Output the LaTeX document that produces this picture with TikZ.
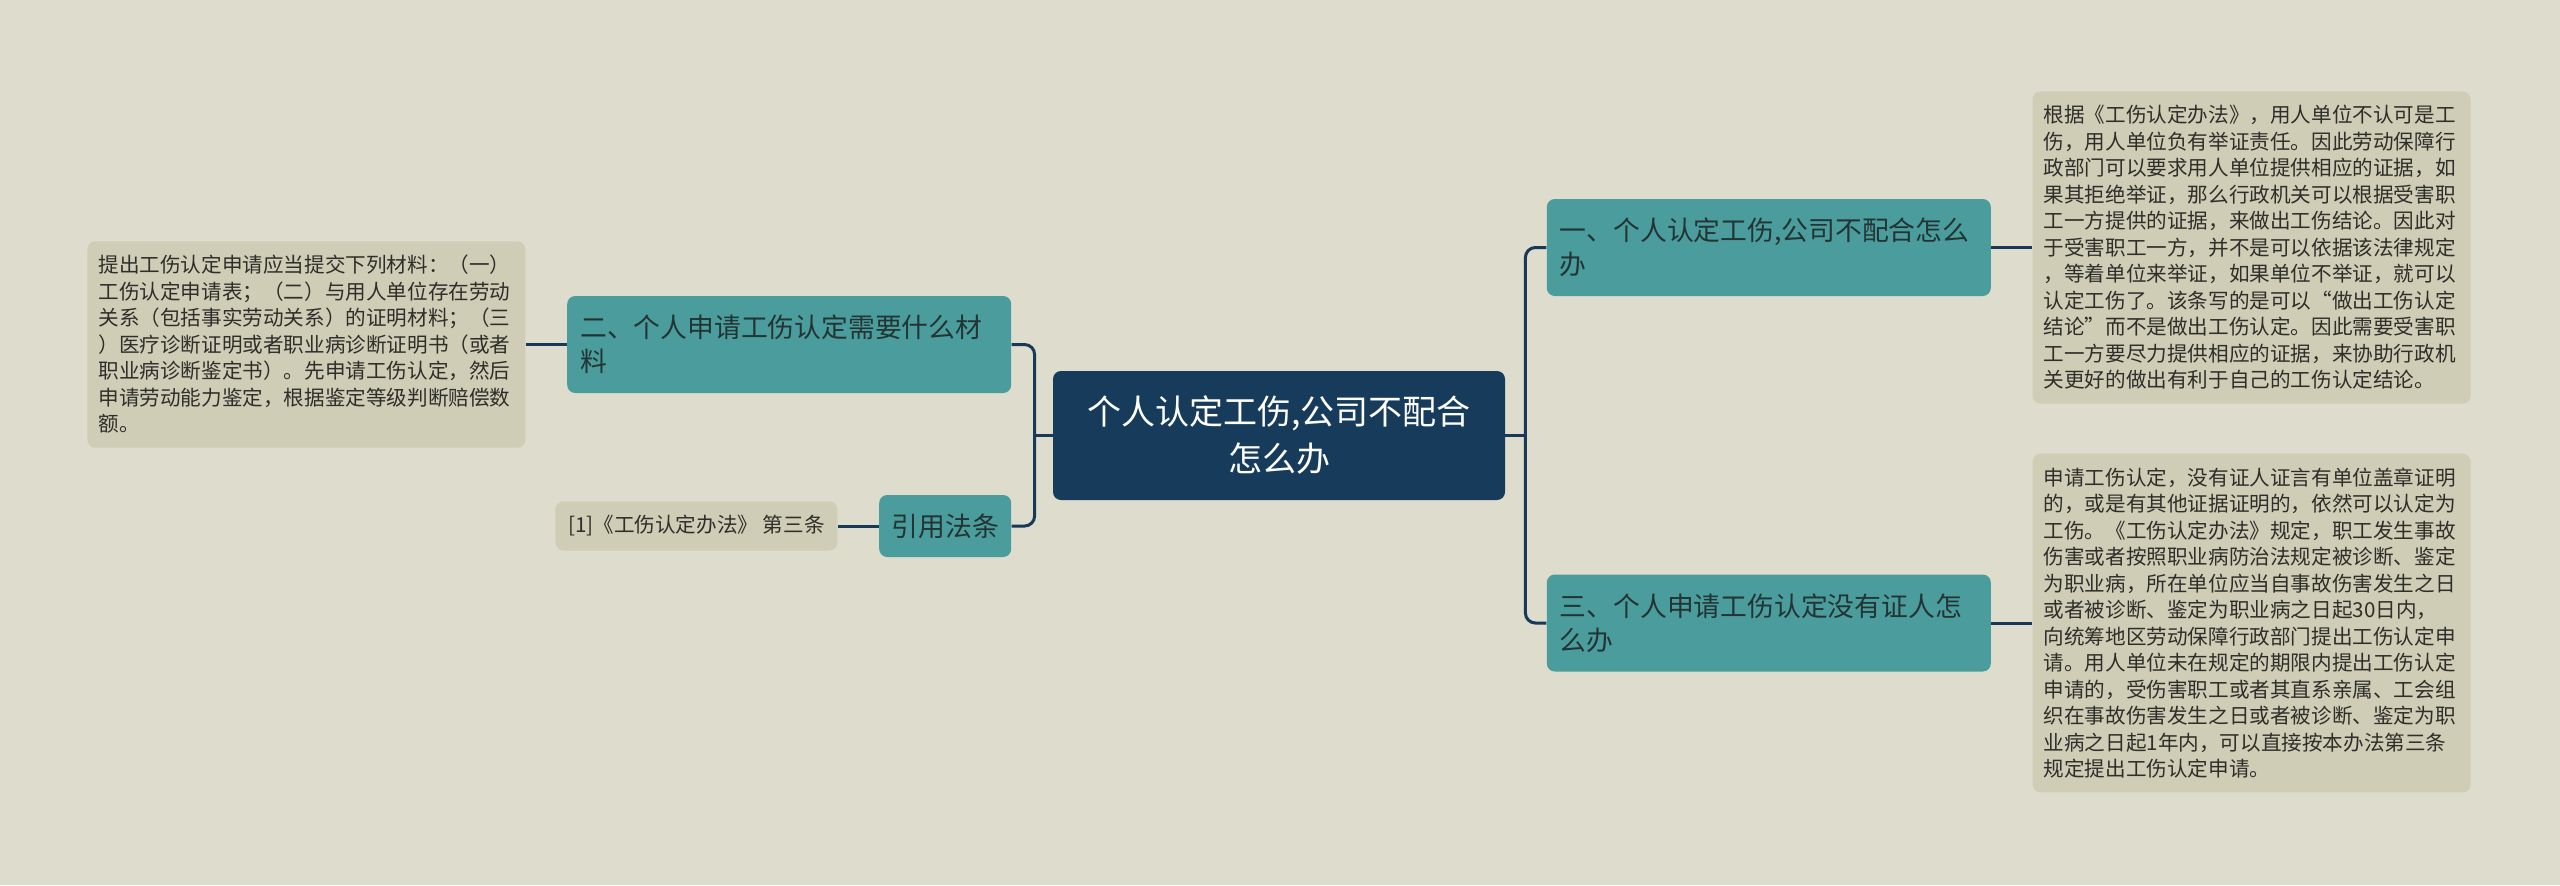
\documentclass[tikz,border=0pt]{standalone}
\usepackage{fontspec}
\newfontfamily\cjk{Noto Sans CJK SC}
\usetikzlibrary{positioning}
\definecolor{bgc}{HTML}{DEDCCD}
\definecolor{rootc}{HTML}{173C5B}
\definecolor{brc}{HTML}{4B9C9C}
\definecolor{leafc}{HTML}{CFCDB6}
\definecolor{linkc}{HTML}{183A58}
\definecolor{brtxt}{HTML}{233434}
\definecolor{leaftxt}{HTML}{2E2E2A}
\tikzset{
  rootbox/.style={fill=rootc, rounded corners=4pt, text=white, align=center,
              font=\cjk\fontsize{17}{23.5}\selectfont,
              minimum width=226pt, minimum height=64.5pt},
  brbox/.style={fill=brc, rounded corners=4pt, text=brtxt, align=left,
              font=\cjk\fontsize{13.4}{17}\selectfont, text width=209pt,
              inner xsep=6.5pt, minimum height=48.5pt},
  lawbox/.style={fill=brc, rounded corners=4pt, text=brtxt,
              font=\cjk\fontsize{13.4}{17}\selectfont,
              minimum width=66pt, minimum height=31pt},
  leaf/.style={fill=leafc, rounded corners=4pt, text=leaftxt, align=left,
              font=\cjk\fontsize{10.3}{13.25}\selectfont, text width=208pt,
              inner xsep=5.5pt, inner ysep=7pt},
  cite/.style={fill=leafc, rounded corners=4pt, text=leaftxt,
              font=\cjk\fontsize{10.3}{13.25}\selectfont,
              minimum width=141pt, minimum height=24.5pt},
  link/.style={draw=linkc, line width=1.5pt, rounded corners=5pt},
}
\begin{document}
\begin{tikzpicture}
  \useasboundingbox (0,0) rectangle (1280pt,-442.5pt);
  \fill[bgc] (0,0) rectangle (1280pt,-442.5pt);

  \node[rootbox] (root) at (639.5pt,-217.75pt) {个人认定工伤,公司不配合\\怎么办};

  % right side
  \node[brbox, anchor=west] (b1) at ([xshift=20.5pt,yshift=94pt]root.east)
    {一、个人认定工伤,公司不配合怎么\\办};
  \node[brbox, anchor=west] (b3) at ([xshift=20.5pt,yshift=-93.75pt]root.east)
    {三、个人申请工伤认定没有证人怎\\么办};
  \node[leaf, right=20.5pt of b1] (l1) {根据《工伤认定办法》，用人单位不认可是工\\
    伤，用人单位负有举证责任。因此劳动保障行\\
    政部门可以要求用人单位提供相应的证据，如\\
    果其拒绝举证，那么行政机关可以根据受害职\\
    工一方提供的证据，来做出工伤结论。因此对\\
    于受害职工一方，并不是可以依据该法律规定\\
    ，等着单位来举证，如果单位不举证，就可以\\
    认定工伤了。该条写的是可以“做出工伤认定\\
    结论”而不是做出工伤认定。因此需要受害职\\
    工一方要尽力提供相应的证据，来协助行政机\\
    关更好的做出有利于自己的工伤认定结论。};
  \node[leaf, right=20.5pt of b3] (l3) {申请工伤认定，没有证人证言有单位盖章证明\\
    的，或是有其他证据证明的，依然可以认定为\\
    工伤。《工伤认定办法》规定，职工发生事故\\
    伤害或者按照职业病防治法规定被诊断、鉴定\\
    为职业病，所在单位应当自事故伤害发生之日\\
    或者被诊断、鉴定为职业病之日起30日内，\\
    向统筹地区劳动保障行政部门提出工伤认定申\\
    请。用人单位未在规定的期限内提出工伤认定\\
    申请的，受伤害职工或者其直系亲属、工会组\\
    织在事故伤害发生之日或者被诊断、鉴定为职\\
    业病之日起1年内，可以直接按本办法第三条\\
    规定提出工伤认定申请。};

  % left side
  \node[brbox, anchor=east] (b2) at ([xshift=-20.5pt,yshift=45.5pt]root.west)
    {二、个人申请工伤认定需要什么材\\料};
  \node[lawbox, anchor=east] (law) at ([xshift=-20.5pt,yshift=-45.25pt]root.west) {引用法条};
  \node[leaf, left=20.5pt of b2] (l2) {提出工伤认定申请应当提交下列材料：（一）\\
    工伤认定申请表；（二）与用人单位存在劳动\\
    关系（包括事实劳动关系）的证明材料；（三\\
    ）医疗诊断证明或者职业病诊断证明书（或者\\
    职业病诊断鉴定书）。先申请工伤认定，然后\\
    申请劳动能力鉴定，根据鉴定等级判断赔偿数\\
    额。};
  \node[cite, left=20.5pt of law] (ref) {[1]《工伤认定办法》 第三条};

  \coordinate (rj) at ([xshift=10pt]root.east);
  \coordinate (lj) at ([xshift=-9pt]root.west);
  \draw[link] (root.east) -- (rj);
  \draw[link] (b1.west) -| (rj) |- (b3.west);
  \draw[link] (root.west) -- (lj);
  \draw[link] (b2.east) -| (lj) |- (law.east);
  \draw[link] (b1) -- (l1);
  \draw[link] (b3) -- (l3);
  \draw[link] (b2) -- (l2);
  \draw[link] (law) -- (ref);
\end{tikzpicture}
\end{document}
